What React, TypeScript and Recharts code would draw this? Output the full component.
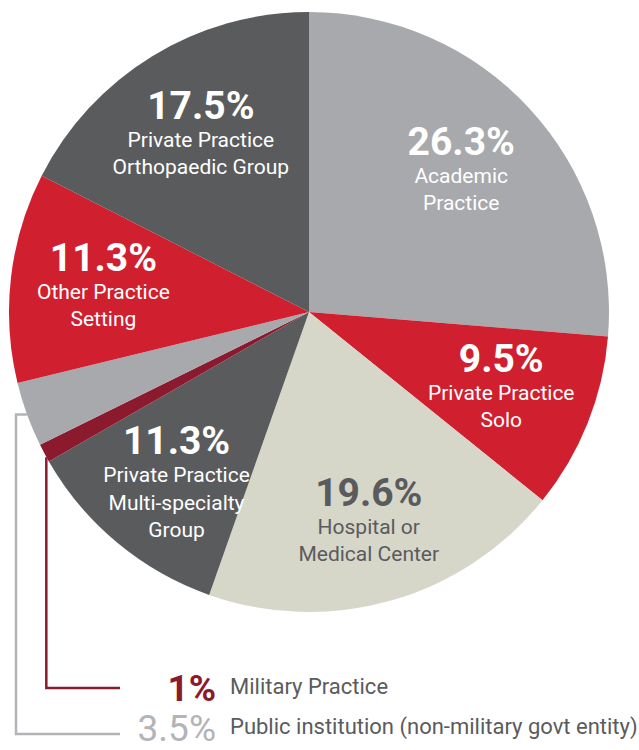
// Practice setting breakdown — pie with in-slice labels and two call-outs
// for the thin slices (Military, Public institution).

import { PieChart, Pie, Cell } from "recharts";

const categories = [
  "Academic Practice",
  "Private Practice Solo",
  "Hospital or Medical Center",
  "Private Practice Multi-specialty Group",
  "Military Practice",
  "Public institution (non-military govt entity)",
  "Other Practice Setting",
  "Private Practice Orthopaedic Group",
];
const shares = [26.3, 9.5, 19.6, 11.3, 1, 3.5, 11.3, 17.5];
// Text lines shown inside each slice (empty = shown as a call-out below)
const sliceLines = [
  ["Academic", "Practice"],
  ["Private Practice", "Solo"],
  ["Hospital or", "Medical Center"],
  ["Private Practice", "Multi-specialty", "Group"],
  [],
  [],
  ["Other Practice", "Setting"],
  ["Private Practice", "Orthopaedic Group"],
];

const GRAY = "#a7a9ac";
const DARK = "#5a5b5d";
const RED = "#d01f2f";
const BEIGE = "#d6d6c9";
const MAROON = "#8c1a2e";
const colors = [GRAY, RED, BEIGE, DARK, MAROON, GRAY, RED, DARK];
const textColors = ["#fff", "#fff", DARK, "#fff", "", "", "#fff", "#fff"];

const FONT = "'Liberation Sans Narrow', 'Roboto', sans-serif";
const RAD = Math.PI / 180;

const data = categories.map((name, i) => ({ name, value: shares[i] }));

// Call-out layout for the two thin slices
const callouts: Record<number, { y: number; lineY: number; color: string; bold: boolean; left?: number }> = {
  4: { y: 688, lineY: 688, color: MAROON, bold: true },
  5: { y: 728, lineY: 734, color: "#b3b4b7", bold: false, left: 16 },
};

// label radius (fraction of outer radius); hospital label sits a bit lower
const labelRadius = (i: number) => (i === 2 ? 0.73 : 0.69);

const renderLabel = (props: any) => {
  const { cx, cy, midAngle, outerRadius, index, value } = props;
  const call = callouts[index];
  if (call) {
    const ex = cx + outerRadius * Math.cos(-midAngle * RAD);
    const ey = cy + outerRadius * Math.sin(-midAngle * RAD);
    const vx = call.left ?? ex + 2;
    const pts = call.left !== undefined
      ? `${ex},${ey} ${vx},${ey} ${vx},${call.lineY} 120,${call.lineY}`
      : `${vx},${ey + 4} ${vx},${call.lineY} 120,${call.lineY}`;
    return (
      <g key={`c-${index}`}>
        <polyline points={pts} fill="none" stroke={call.color} strokeWidth={2.5} />
        <text x={216} y={call.y} textAnchor="end" dominantBaseline="central"
          fontFamily={FONT} fontSize={37} fontWeight={call.bold ? 700 : 400} fill={call.color}>
          {`${value}%`}
        </text>
        <text x={230} y={call.y - 2} dominantBaseline="central"
          fontFamily={FONT} fontSize={22} fill={DARK}>
          {categories[index]}
        </text>
      </g>
    );
  }
  const r = outerRadius * labelRadius(index);
  const x = cx + r * Math.cos(-midAngle * RAD);
  const y = cy + r * Math.sin(-midAngle * RAD) + 3;
  const fill = textColors[index];
  return (
    <g key={`l-${index}`}>
      <text x={x} y={y - 33} textAnchor="middle" dominantBaseline="central"
        fontFamily={FONT} fontSize={39} fontWeight={700} fill={fill}>
        {`${value}%`}
      </text>
      {sliceLines[index].map((line, j) => (
        <text key={j} x={x} y={y + 1 + j * 27.5} textAnchor="middle" dominantBaseline="central"
          fontFamily={FONT} fontSize={21} fill={fill}>
          {line}
        </text>
      ))}
    </g>
  );
};

export default function App() {
  return (
    <div style={{ position: "absolute", left: 0, top: 0, background: "#fff" }}>
      <PieChart width={639} height={750} margin={{ top: 0, right: 0, bottom: 0, left: 0 }}>
        <Pie
          data={data}
          dataKey="value"
          nameKey="name"
          cx={309}
          cy={312}
          outerRadius={300}
          startAngle={90}
          endAngle={-270}
          stroke="none"
          label={renderLabel}
          labelLine={false}
          isAnimationActive={false}
        >
          {data.map((d, i) => (
            <Cell key={d.name} fill={colors[i]} />
          ))}
        </Pie>
      </PieChart>
    </div>
  );
}
